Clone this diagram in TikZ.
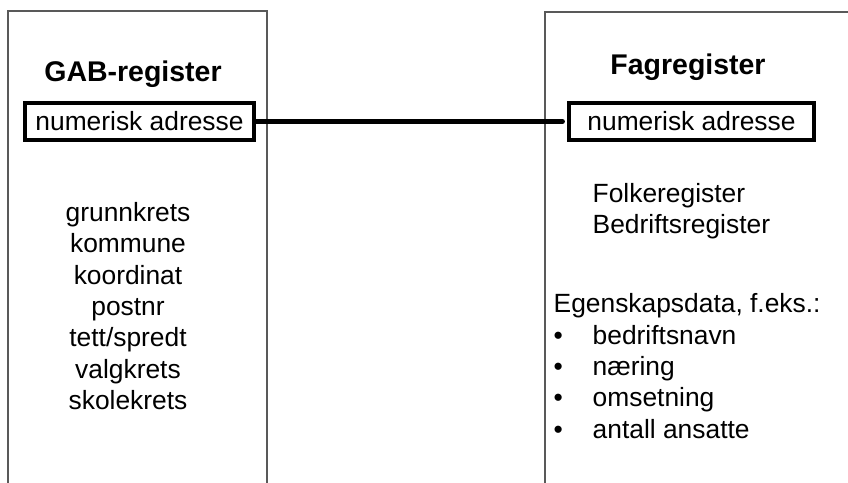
\documentclass[tikz,border=0pt]{standalone}
\usepackage{fontspec}
\setmainfont{Liberation Sans}

\begin{document}
\begin{tikzpicture}[x=0.01cm,y=-0.01cm,
  register/.style={draw=gray!70!black,line width=0.4pt},
  title/.style={font=\fontsize{8.1}{9.7}\selectfont\bfseries,anchor=base,inner sep=0pt},
  adresse/.style={draw,line width=1.3pt,minimum width=2.29cm,minimum height=0.37cm,
    inner sep=0pt,font=\fontsize{7.5}{8.9}\selectfont},
  liste/.style={font=\fontsize{7.5}{8.9}\selectfont,inner sep=0pt}]
  \useasboundingbox (0,0) rectangle (848,483);
  % registerkolonnene, åpne nedtil
  \draw[register] (8,483) -- (8,11) -- (267,11) -- (267,483);
  \draw[register] (545,483) -- (545,12) -- (848,12);
  \node[title] (gab) at (133,82) {GAB-register};
  \node[title] (fag) at (688,75) {Fagregister};
  \node[adresse] (gabadr) at (139.5,121.5) {numerisk adresse};
  \node[adresse,minimum width=2.45cm] (fagadr) at (691.5,121.5) {numerisk adresse};
  \draw[line width=1.3pt,line cap=round] (gabadr.east) -- ([xshift=-0.04cm]fagadr.west);
  \node[liste,align=center] (gabdata) at (128,306)
    {grunnkrets\\kommune\\koordinat\\postnr\\tett/spredt\\valgkrets\\skolekrets};
  \node[liste,anchor=west,align=left] (kilder) at (592,211)
    {Folkeregister\\Bedriftsregister};
  \node[liste,anchor=west,align=left] (egenskap) at (553,366)
    {Egenskapsdata, f.eks.:\\
     \makebox[0.39cm][l]{\textbullet}bedriftsnavn\\
     \makebox[0.39cm][l]{\textbullet}næring\\
     \makebox[0.39cm][l]{\textbullet}omsetning\\
     \makebox[0.39cm][l]{\textbullet}antall ansatte};
\end{tikzpicture}
\end{document}
